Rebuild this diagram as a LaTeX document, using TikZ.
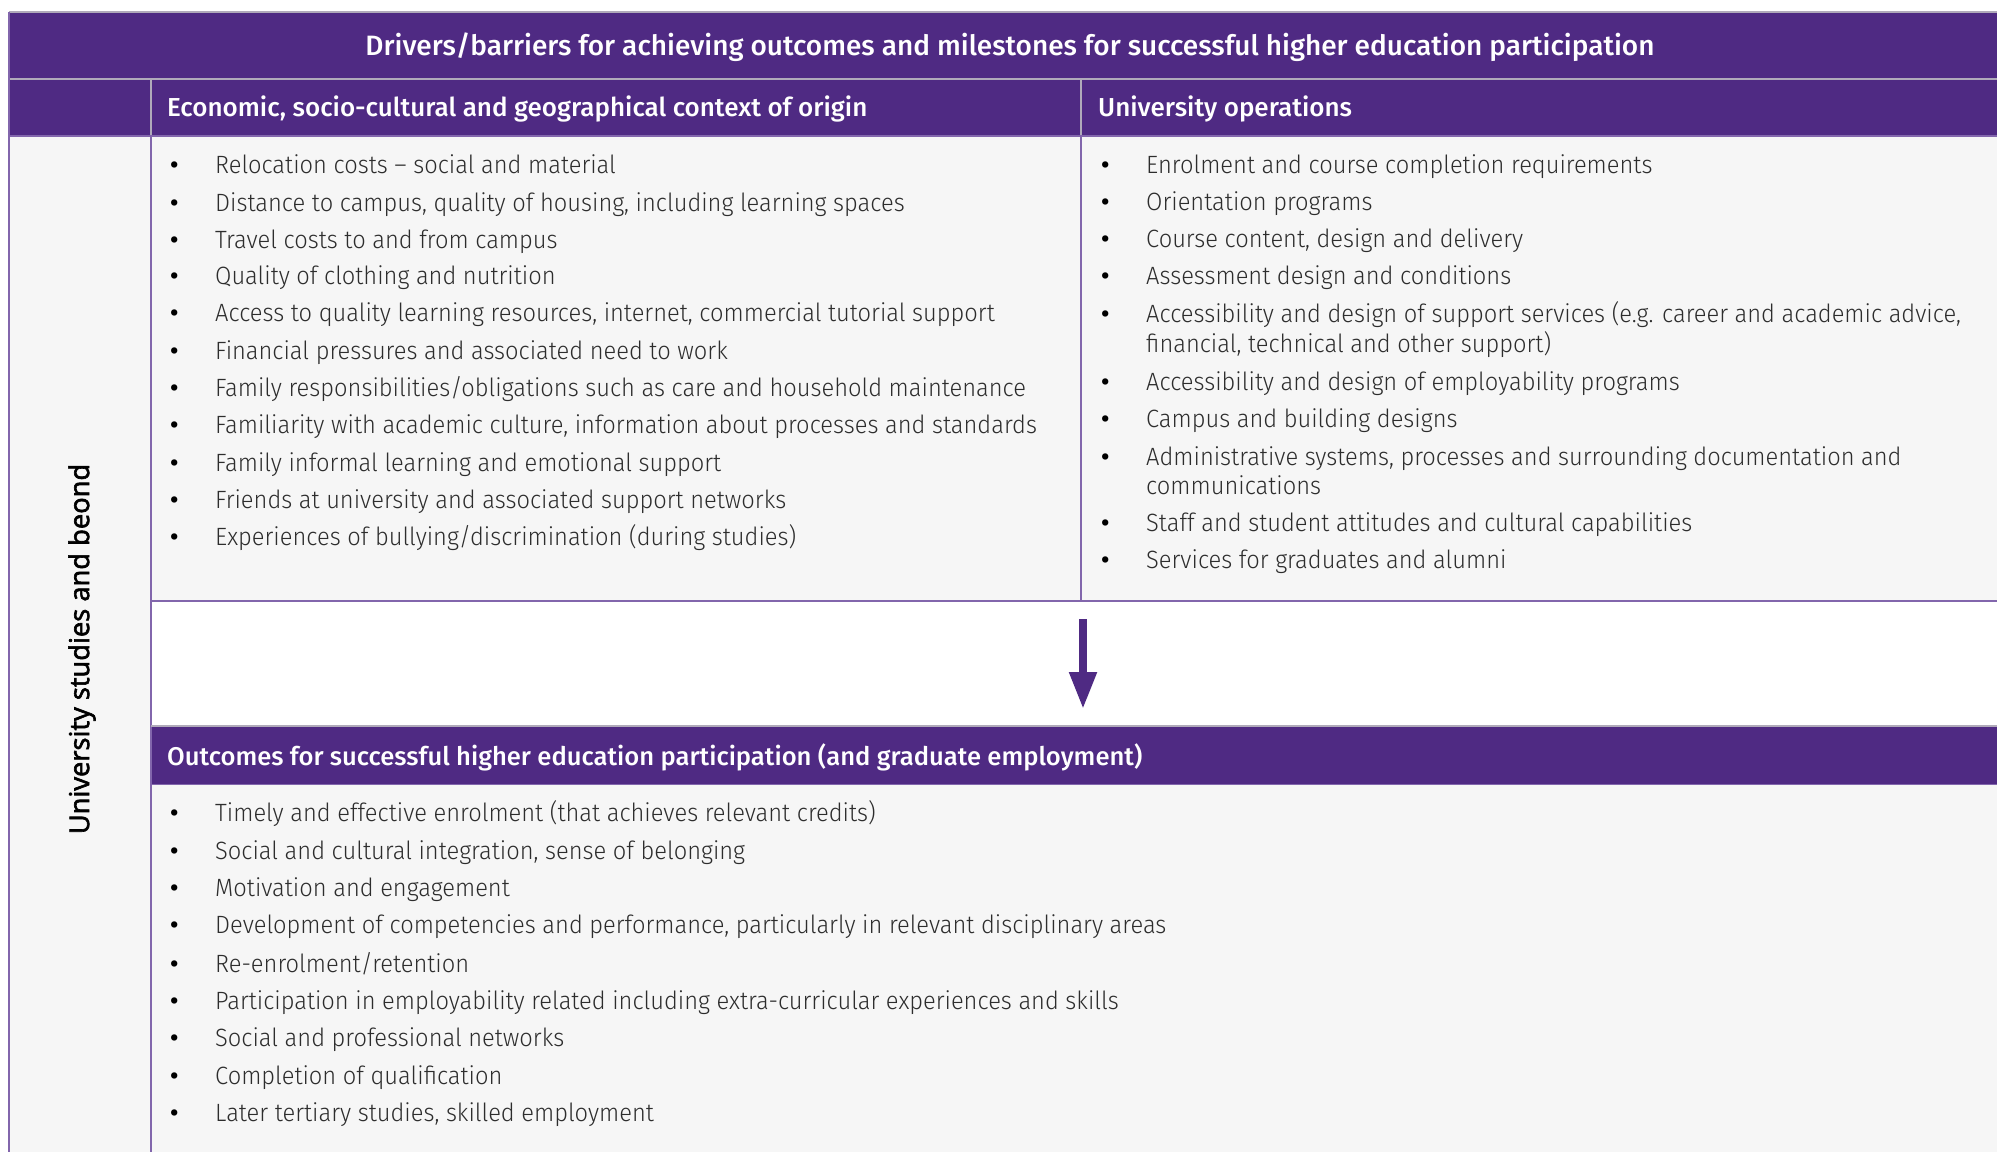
\documentclass[tikz,border=0pt]{standalone}
\usepackage{fontspec}
\setmainfont{Fira Sans Light}[FakeStretch=0.947]
\newfontfamily\headfont{Fira Sans Medium}
\newfontfamily\dotfont{Fira Sans Medium}
\newfontfamily\labelfont{Open Sans}[FakeBold=2.2]
\usetikzlibrary{arrows.meta}

\definecolor{uniPurple}{RGB}{79,42,131}
\definecolor{cellGray}{RGB}{246,246,246}
\definecolor{rulePurple}{RGB}{130,102,172}
\definecolor{ruleGray}{RGB}{176,170,186}
\definecolor{bodyText}{RGB}{45,45,45}

\tikzset{
  bandfill/.style={fill=uniPurple},
  cellfill/.style={fill=cellGray},
  headtext/.style={anchor=base west, inner sep=0pt, text=white,
    font=\headfont\fontsize{26}{30}\selectfont},
  itemtext/.style={anchor=base west, inner sep=0pt, text=bodyText,
    font=\fontsize{25}{30}\selectfont},
  bullettext/.style={anchor=base west, inner sep=0pt, text=black,
    font=\dotfont\fontsize{25}{30}\selectfont},
  gridline/.style={draw=rulePurple, line width=1.6pt},
  bandline/.style={draw=ruleGray, line width=1.4pt},
  flowarrow/.style={draw=uniPurple, line width=8pt,
    -{Triangle[width=26pt,length=37pt]}, shorten <=18pt, shorten >=17pt},
}

\begin{document}
\begin{tikzpicture}[x=1pt,y=-1pt]
\useasboundingbox (0,0) rectangle (1997,1152);
\fill[white] (0,0) rectangle (1997,1152);

% cell backgrounds
\fill[cellfill] (9,136) rectangle (1997,1152);
\fill[white] (151,601) rectangle (1997,726);

% purple bands
\fill[bandfill] (9,12) rectangle (1997,136);
\fill[bandfill] (151,726) rectangle (1997,784.5);

% rules of the purple bands
\draw[bandline] (9,12) -- (1997,12);
\draw[bandline] (9,79) -- (1997,79);
\draw[bandline] (151,79) -- (151,136);
\draw[bandline] (1081,79) -- (1081,136);

% grid rules of the body
\draw[gridline] (9,12) -- (9,1152);
\draw[gridline] (9,136) -- (1997,136);
\draw[gridline] (151,136) -- (151,1152);
\draw[gridline] (1081,136) -- (1081,601);
\draw[gridline] (151,601) -- (1997,601);
\draw[bandline] (151,726) -- (1997,726);
\draw[gridline] (151,784.5) -- (1997,784.5);

% headings
\node[anchor=base, inner sep=0pt, text=white,
      font=\headfont\fontsize{28}{32}\selectfont] (title) at (1010,55)
  {Drivers/barriers for achieving outcomes and milestones for successful higher education participation};
\node[headtext] (ctxhead) at (167,116.5)
  {Economic, socio-cultural and geographical context of origin};
\node[headtext] (opshead) at (1098,116.5) {University operations};
\node[headtext, font=\headfont\fontsize{25.6}{30}\selectfont] (outhead) at (167,765)
  {Outcomes for successful higher education participation (and graduate employment)};

% side label
\node[rotate=90, inner sep=0pt, text=black,
      font=\labelfont\fontsize{27.3}{32}\selectfont] (side) at (82,649)
  {University studies and beond};

% context of origin
\foreach \yy/\tx [count=\i] in {
  173/{Relocation costs – social and material},
  211/{Distance to campus, quality of housing, including learning spaces},
  248/{Travel costs to and from campus},
  284.5/{Quality of clothing and nutrition},
  321.5/{Access to quality learning resources, internet, commercial tutorial support},
  359.5/{Financial pressures and associated need to work},
  396.5/{Family responsibilities/obligations such as care and household maintenance},
  433.5/{Familiarity with academic culture, information about processes and standards},
  471.5/{Family informal learning and emotional support},
  508.5/{Friends at university and associated support networks},
  545.5/{Experiences of bullying/discrimination (during studies)}}
{
  \node[bullettext] (cb\i) at (170,\yy) {•};
  \node[itemtext] (ct\i) at (215,\yy) {\tx};
}

% university operations
\foreach \yy/\tx [count=\i] in {
  173.5/{Enrolment and course completion requirements},
  210.5/{Orientation programs},
  247.5/{Course content, design and delivery},
  284.5/{Assessment design and conditions},
  322.5/{Accessibility and design of support services (e.g. career and academic advice,},
  390/{Accessibility and design of employability programs},
  427/{Campus and building designs},
  465/{Administrative systems, processes and surrounding documentation and},
  531.5/{Staff and student attitudes and cultural capabilities},
  568.5/{Services for graduates and alumni}}
{
  \node[bullettext] (ob\i) at (1101,\yy) {•};
  \node[itemtext] (ot\i) at (1146,\yy) {\tx};
}
\node[itemtext] (ot5b) at (1146,352) {financial, technical and other support)};
\node[itemtext] (ot8b) at (1146,494.5) {communications};

% outcomes
\foreach \yy/\tx [count=\i] in {
  821.5/{Timely and effective enrolment (that achieves relevant credits)},
  859.5/{Social and cultural integration, sense of belonging},
  896.5/{Motivation and engagement},
  933.5/{Development of competencies and performance, particularly in relevant disciplinary areas},
  972/{Re-enrolment/retention},
  1009/{Participation in employability related including extra-curricular experiences and skills},
  1046/{Social and professional networks},
  1084/{Completion of qualification},
  1121/{Later tertiary studies, skilled employment}}
{
  \node[bullettext] (ub\i) at (170,\yy) {•};
  \node[itemtext] (ut\i) at (215,\yy) {\tx};
}

% flow from the drivers to the outcomes
\coordinate (driversfoot) at (1083,601);
\coordinate (outcomestop) at (1083,726);
\draw[flowarrow] (driversfoot) -- (outcomestop);
\end{tikzpicture}
\end{document}
